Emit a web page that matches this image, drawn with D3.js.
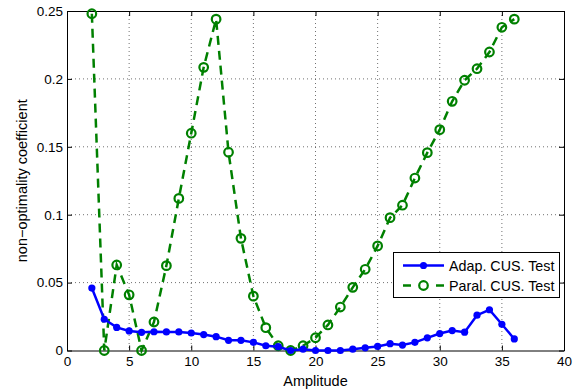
<!DOCTYPE html>
<html>
<head>
<meta charset="utf-8">
<script src="https://cdn.jsdelivr.net/npm/d3@7"></script>
<style>
  body { margin: 0; background: #fff; }
  svg text { font-family: "Liberation Sans", Arial, sans-serif; }
</style>
</head>
<body>
<svg id="chart" width="585" height="389"></svg>
<script>
const amplitude = d3.range(2, 37);
const adapTest = [0.046, 0.023, 0.017, 0.0144, 0.0134, 0.0138, 0.0137, 0.0137, 0.0129, 0.0117,
  0.0102, 0.0075, 0.0075, 0.006, 0.0035, 0.0028, 0.0, 0.001, 0.0, 0.0,
  0.0, 0.001, 0.002, 0.003, 0.005, 0.004, 0.006, 0.0093, 0.0125, 0.0147,
  0.0135, 0.026, 0.030, 0.0193, 0.0085];
const paralTest = [0.248, 0.0, 0.063, 0.041, 0.0, 0.021, 0.0625, 0.112, 0.160, 0.2085,
  0.244, 0.146, 0.0826, 0.040, 0.0168, 0.0035, 0.0, 0.0035, 0.0094, 0.0188,
  0.032, 0.0465, 0.0598, 0.077, 0.0978, 0.107, 0.127, 0.1457, 0.1626, 0.1835,
  0.199, 0.2075, 0.2198, 0.238, 0.244];
const xTicks = [0, 5, 10, 15, 20, 25, 30, 35, 40];
const yTicks = [0, 0.05, 0.1, 0.15, 0.2, 0.25];
const seriesNames = ["Adap. CUS. Test", "Paral. CUS. Test"];

const plotLeft = 67, plotRight = 564, plotTop = 11, plotBottom = 350.5;
const svg = d3.select("#chart");

const x = d3.scaleLinear().domain([0, 40]).range([plotLeft, plotRight]);
const y = d3.scaleLinear().domain([0, 0.25]).range([plotBottom, plotTop]);

// grid
const grid = svg.append("g").attr("stroke", "#333").attr("stroke-width", 0.7)
  .attr("stroke-dasharray", "1,3");
grid.selectAll(".gx").data(xTicks.slice(1, -1)).join("line")
  .attr("x1", d => x(d)).attr("x2", d => x(d)).attr("y1", plotTop).attr("y2", plotBottom);
grid.selectAll(".gy").data(yTicks.slice(1, -1)).join("line")
  .attr("y1", d => y(d)).attr("y2", d => y(d)).attr("x1", plotLeft).attr("x2", plotRight);

// axes (ticks inward, all four sides)
const tk = 5;
const styleAxis = g => {
  g.select(".domain").attr("stroke", "#000").attr("stroke-width", 1);
  g.selectAll(".tick line").attr("stroke", "#000");
  g.selectAll(".tick text").attr("font-size", 13.5).attr("fill", "#000");
};
svg.append("g").attr("transform", `translate(0,${plotBottom})`)
  .call(d3.axisBottom(x).tickValues(xTicks).tickSize(-tk).tickSizeOuter(0).tickPadding(6))
  .call(styleAxis);
svg.append("g").attr("transform", `translate(0,${plotTop})`)
  .call(d3.axisTop(x).tickValues(xTicks).tickSize(-tk).tickSizeOuter(0).tickFormat(""))
  .call(styleAxis);
svg.append("g").attr("transform", `translate(${plotLeft},0)`)
  .call(d3.axisLeft(y).tickValues(yTicks).tickSize(-tk).tickSizeOuter(0).tickPadding(4)
    .tickFormat(d => String(+d.toFixed(2))))
  .call(styleAxis);
svg.append("g").attr("transform", `translate(${plotRight},0)`)
  .call(d3.axisRight(y).tickValues(yTicks).tickSize(-tk).tickSizeOuter(0).tickFormat(""))
  .call(styleAxis);

// labels
svg.append("text").attr("x", (plotLeft + plotRight) / 2).attr("y", 386)
  .attr("text-anchor", "middle").attr("font-size", 14.5).text("Amplitude");
svg.append("text").attr("transform", `translate(27,${(plotTop + plotBottom) / 2}) rotate(-90)`)
  .attr("text-anchor", "middle").attr("font-size", 14.5).text("non\u2212optimality coefficient");

const line = d3.line().x((d, i) => x(amplitude[i])).y(d => y(d));

// green dashed series
svg.append("path").datum(paralTest).attr("d", line)
  .attr("fill", "none").attr("stroke", "#008000").attr("stroke-width", 2.5)
  .attr("stroke-dasharray", "9,6");
svg.append("g").selectAll("circle").data(paralTest).join("circle")
  .attr("cx", (d, i) => x(amplitude[i])).attr("cy", d => y(d)).attr("r", 4.3)
  .attr("fill", "none").attr("stroke", "#008000").attr("stroke-width", 2.2);

// blue solid series
svg.append("path").datum(adapTest).attr("d", line)
  .attr("fill", "none").attr("stroke", "#0000ff").attr("stroke-width", 2.5);
svg.append("g").selectAll("circle").data(adapTest).join("circle")
  .attr("cx", (d, i) => x(amplitude[i])).attr("cy", d => y(d)).attr("r", 3.6)
  .attr("fill", "#0000ff");

// legend
const lg = svg.append("g").attr("transform", "translate(393.5,252.5)");
lg.append("rect").attr("width", 166).attr("height", 45)
  .attr("fill", "#fff").attr("stroke", "#000").attr("stroke-width", 1);
const rows = [
  { name: seriesNames[0], color: "#0000ff", dash: null, open: false },
  { name: seriesNames[1], color: "#008000", dash: "8,25,8", open: true }
];
rows.forEach((r, i) => {
  const cy = 13 + i * 20;
  lg.append("line").attr("x1", 9.5).attr("x2", 50.5).attr("y1", cy).attr("y2", cy)
    .attr("stroke", r.color).attr("stroke-width", 2.5)
    .attr("stroke-dasharray", r.dash);
  lg.append("circle").attr("cx", 30).attr("cy", cy).attr("r", r.open ? 4.3 : 3.6)
    .attr("fill", r.open ? "none" : r.color)
    .attr("stroke", r.open ? r.color : "none").attr("stroke-width", 2.2);
  lg.append("text").attr("x", 55.5).attr("y", cy + 5).attr("font-size", 14.3)
    .text(r.name);
});
</script>
</body>
</html>
